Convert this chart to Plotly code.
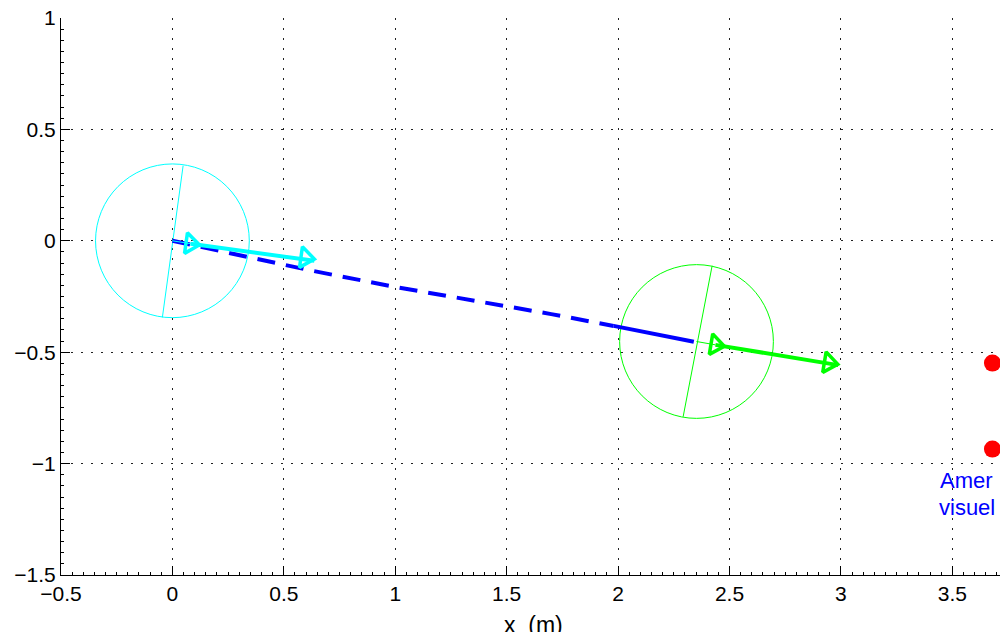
import math
import plotly.graph_objects as go

# ---- data (metres) ----
traj_x = [0.0, 0.38, 0.63, 1.0, 1.5, 1.7, 1.98]
traj_y = [0.0, -0.082, -0.135, -0.207, -0.292, -0.329, -0.382]
tail_x = [1.98, 2.15, 2.34]
tail_y = [-0.382, -0.416, -0.453]

start_center = (0.0, 0.0)
start_heading_x = [0.048, -0.045]
start_heading_y = [0.337, -0.344]
end_center = (2.352, -0.452)
end_heading_x = [2.422, 2.292]
end_heading_y = [-0.112, -0.790]
robot_radius = 0.345

cyan_arrow_x = [0.0, 0.081, 0.637]
cyan_arrow_y = [0.0, -0.013, -0.090]
cyan_marks_x = [0.081, 0.597]
cyan_marks_y = [-0.013, -0.076]

green_arrow_x = [2.352, 2.437, 2.988]
green_arrow_y = [-0.452, -0.467, -0.558]
green_marks_x = [2.437, 2.946]
green_marks_y = [-0.467, -0.548]

amer_x = [3.68, 3.68]
amer_y = [-0.549, -0.935]

x_ticks = [-0.5, 0, 0.5, 1, 1.5, 2, 2.5, 3, 3.5]
y_ticks = [-1.5, -1, -0.5, 0, 0.5, 1]

BLUE = "#0000ff"
CYAN = "#00ffff"
GREEN = "#00ff00"
RED = "#ff0000"
FONT = "Liberation Sans, Arial, Helvetica"


def fmt(v):
    s = ("%g" % v)
    return s.replace("-", "\u2212")


def arrow_angle(xs, ys):
    dx = xs[-1] - xs[0]
    dy = ys[-1] - ys[0]
    return -math.degrees(math.atan2(dy, dx))


fig = go.Figure()

# heading lines
fig.add_trace(go.Scatter(x=start_heading_x, y=start_heading_y, mode="lines",
                         line=dict(color=CYAN, width=1), hoverinfo="skip"))
fig.add_trace(go.Scatter(x=end_heading_x, y=end_heading_y, mode="lines",
                         line=dict(color=GREEN, width=1), hoverinfo="skip"))

# trajectory
fig.add_trace(go.Scatter(x=traj_x, y=traj_y, mode="lines",
                         line=dict(color=BLUE, width=4, dash="18px,11px"),
                         hoverinfo="skip"))
fig.add_trace(go.Scatter(x=tail_x, y=tail_y, mode="lines",
                         line=dict(color=BLUE, width=4), hoverinfo="skip"))

# arrows
for ax_, ay_, mx, my, col in [
    (cyan_arrow_x, cyan_arrow_y, cyan_marks_x, cyan_marks_y, CYAN),
    (green_arrow_x, green_arrow_y, green_marks_x, green_marks_y, GREEN),
]:
    fig.add_trace(go.Scatter(x=ax_[:2], y=ay_[:2], mode="lines",
                             line=dict(color=col, width=1), hoverinfo="skip"))
    fig.add_trace(go.Scatter(x=ax_[1:], y=ay_[1:], mode="lines",
                             line=dict(color=col, width=4), hoverinfo="skip"))
    ang = arrow_angle(ax_, ay_)
    fig.add_trace(go.Scatter(x=mx, y=my, mode="markers",
                             marker=dict(symbol="triangle-right-open", size=18,
                                         angle=ang, color=col,
                                         line=dict(color=col, width=3.5)),
                             hoverinfo="skip"))

# landmarks
fig.add_trace(go.Scatter(x=amer_x, y=amer_y, mode="markers",
                         marker=dict(symbol="circle", size=17, color=RED,
                                     line=dict(width=0)),
                         hoverinfo="skip"))

# robot circles
shapes = []
for (cx, cy), col in [(start_center, CYAN), (end_center, GREEN)]:
    shapes.append(dict(type="circle", xref="x", yref="y",
                       x0=cx - robot_radius, x1=cx + robot_radius,
                       y0=cy - robot_radius, y1=cy + robot_radius,
                       line=dict(color=col, width=1), layer="below"))

annotations = [
    dict(text="Amer", x=3.564, y=-1.075, xref="x", yref="y", showarrow=False,
         font=dict(color=BLUE, size=22, family=FONT),
         xanchor="center", yanchor="middle"),
    dict(text="visuel", x=3.564, y=-1.195, xref="x", yref="y", showarrow=False,
         font=dict(color=BLUE, size=22, family=FONT),
         xanchor="center", yanchor="middle"),
    dict(text="x\u00a0\u00a0(m)", x=0.503, y=-0.063, xref="paper", yref="paper",
         showarrow=False, xanchor="center", yanchor="top",
         font=dict(color="black", size=23, family=FONT)),
]

axis_common = dict(
    showline=True, linecolor="black", linewidth=1,
    ticks="inside", ticklen=9, tickcolor="black", tickwidth=1,
    showgrid=True, gridcolor="#222222", gridwidth=1, griddash="1.5px,8.5px",
    zeroline=False, mirror=False, ticklabeloverflow="allow",
    tickfont=dict(family=FONT, size=21, color="black"),
    minor=dict(ticks="inside", ticklen=3, tickcolor="black", dtick=0.05,
               showgrid=False),
)

fig.update_layout(
    width=1000, height=632,
    margin=dict(l=61, r=0, t=18, b=57),
    plot_bgcolor="white", paper_bgcolor="white",
    showlegend=False,
    shapes=shapes, annotations=annotations,
    xaxis=dict(range=[-0.5, 3.714], tickmode="array", tickvals=x_ticks,
               ticktext=[fmt(v) for v in x_ticks], **axis_common),
    yaxis=dict(range=[-1.5, 1.0], tickmode="array", tickvals=y_ticks,
               ticktext=[fmt(v) for v in y_ticks], **axis_common),
)

fig.write_html(
    "out.html",
    config={"displayModeBar": False},
    post_script="document.body.style.margin='0';"
                "document.body.style.overflow='hidden';",
)
